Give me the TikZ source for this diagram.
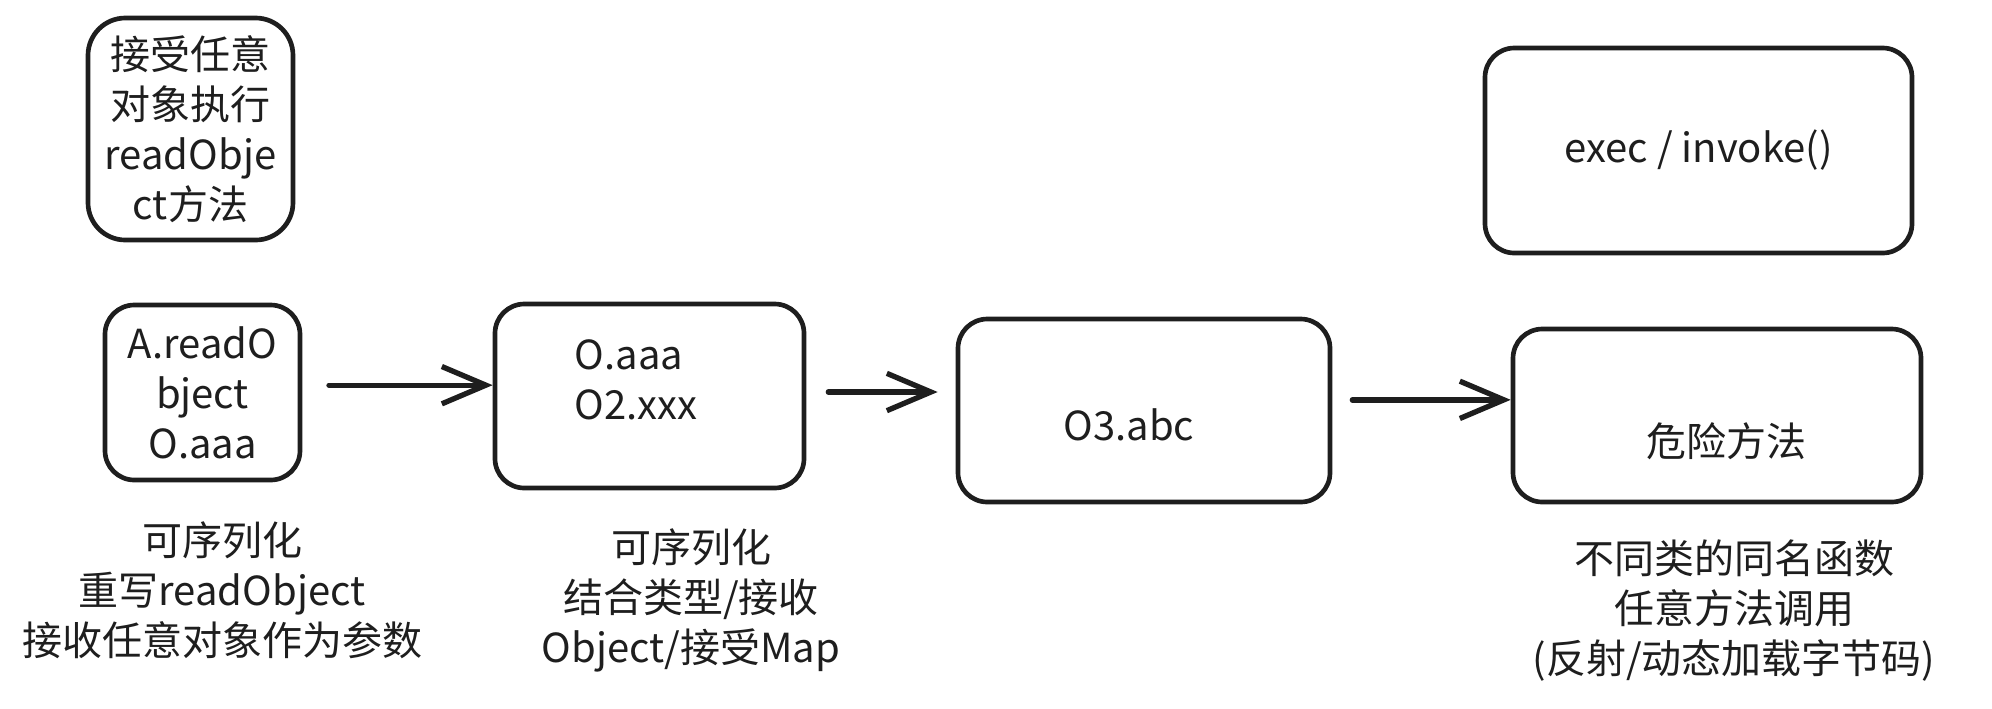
\documentclass[tikz,border=0pt]{standalone}
\usepackage{fontspec}
\setmainfont{Noto Sans CJK SC}
\usetikzlibrary{arrows.meta}
\definecolor{ink}{HTML}{1E1E1E}

\begin{document}
\begin{tikzpicture}[x=0.75pt, y=-0.75pt,
  txt/.style={text=ink, align=center, font=\fontsize{30}{37.5}\selectfont},
  box/.style={draw=ink, line width=3.5pt, rounded corners=22pt, inner sep=0pt},
  flow/.style={draw=ink, line width=4pt, line cap=round, -{Straight Barb[length=33pt,width=28pt]}}]

\useasboundingbox (0,0) rectangle (1992,708);

\node[box, txt, rounded corners=28pt, minimum width=153.75pt, minimum height=166.5pt] (note) at (190.5,129) {接受任意\\对象执行\\readObje\\ct方法};

\node[box, txt, minimum width=146.25pt, minimum height=131.25pt] (entry) at (202.5,392.5) {A.readO\\bject\\O.aaa};
\node[box, minimum width=231.75pt, minimum height=138pt] (mid) at (649.5,396) {};
\node[box, minimum width=279pt, minimum height=137.25pt] (hop) at (1144,410.5) {};
\node[box, minimum width=306pt, minimum height=129.75pt] (danger) at (1717,415.5) {};
\node[box, txt, minimum width=320.25pt, minimum height=153.75pt] (call) at (1698.5,150.5) {exec / invoke()};

\node[txt, align=left, anchor=west] (midtxt) at (570,380) {O.aaa\\O2.xxx};
\node[txt] (hoptxt) at (1129,425) {O3.abc};
\node[txt] (dangertxt) at (1726,441) {危险方法};

\draw[flow, shorten <=20pt] ([yshift=5.5pt]entry.east) -- ([yshift=5.5pt]entry.east -| mid.west);
\draw[flow, shorten <=16.5pt, shorten >=13.5pt] ([yshift=3pt]mid.east) -- ([yshift=3pt]mid.east -| hop.west);
\draw[flow, shorten <=15pt] ([yshift=8pt]hop.east) -- ([yshift=8pt]hop.east -| danger.west);

\node[txt] (lab1) at (222,590) {可序列化\\重写readObject\\接收任意对象作为参数};
\node[txt] (lab2) at (691,600) {可序列化\\结合类型/接收\\Object/接受Map};
\node[txt] (lab3) at (1734,611) {不同类的同名函数\\任意方法调用\\(反射/动态加载字节码)};

\end{tikzpicture}
\end{document}
